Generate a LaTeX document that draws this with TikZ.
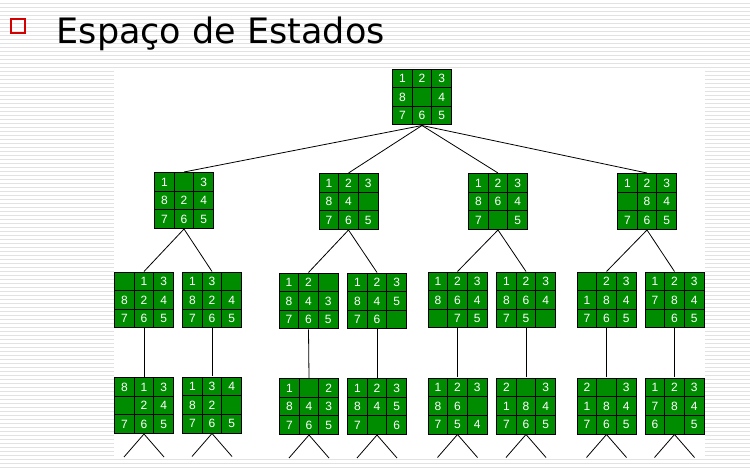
\documentclass[tikz,border=0pt]{standalone}
\usepackage{fontspec}
\setmainfont{Liberation Sans}
\newfontfamily\titlefont{DejaVu Sans}
\usetikzlibrary{matrix}
\definecolor{tilegreen}{RGB}{0,140,0}
\definecolor{stripegray}{RGB}{226,226,226}
\definecolor{bulletred}{RGB}{210,0,0}
\tikzset{
  puzzle/.style={matrix of nodes, ampersand replacement=\&, nodes in empty cells,
    column sep=-0.8pt, row sep=-0.8pt, inner sep=0pt,
    nodes={draw=black, line width=0.8pt, fill=tilegreen, minimum width=19.6pt,
      minimum height=18.6pt, inner sep=0pt, text=white,
      font=\fontsize{12}{12}\selectfont, anchor=center}},
  edge/.style={draw=black, line width=0.8pt},
}
\newcommand{\puz}[5]{\matrix[puzzle] (#1) at (#2) {#3\\#4\\#5\\};}
\begin{document}
\begin{tikzpicture}[x=1pt,y=-1pt]
\useasboundingbox (0,0) rectangle (750,470);
% striped slide background
\foreach \yy in {3.5,7.5,...,469.5}
  \draw[stripegray, line width=1.5pt] (0,\yy) -- (750,\yy);
\fill[white] (114,68) rectangle (705,459);
% title
\node[draw=bulletred, line width=1.6pt, minimum size=14pt, inner sep=0pt] (bullet) at (18.2,25.8) {};
\node[anchor=base west, inner sep=0pt, font=\titlefont\fontsize{35}{35}\selectfont] (title) at (56.5,44) {Espaço de Estados};
% root
\puz{root}{422,97}{1 \& 2 \& 3}{8 \& \& 4}{7 \& 6 \& 5}
% level 1
\puz{a}{184,200.5}{1 \& \& 3}{8 \& 2 \& 4}{7 \& 6 \& 5}
\puz{b}{348.5,201.5}{1 \& 2 \& 3}{8 \& 4 \& }{7 \& 6 \& 5}
\puz{c}{498,201.5}{1 \& 2 \& 3}{8 \& 6 \& 4}{7 \& \& 5}
\puz{d}{647,201.5}{1 \& 2 \& 3}{\& 8 \& 4}{7 \& 6 \& 5}
% level 2
\puz{aa}{144,300}{\& 1 \& 3}{8 \& 2 \& 4}{7 \& 6 \& 5}
\puz{ab}{212,300}{1 \& 3 \& }{8 \& 2 \& 4}{7 \& 6 \& 5}
\puz{ba}{308.5,301}{1 \& 2 \& }{8 \& 4 \& 3}{7 \& 6 \& 5}
\puz{bb}{377,301}{1 \& 2 \& 3}{8 \& 4 \& 5}{7 \& 6 \& }
\puz{ca}{457.5,300}{1 \& 2 \& 3}{8 \& 6 \& 4}{\& 7 \& 5}
\puz{cb}{526,300}{1 \& 2 \& 3}{8 \& 6 \& 4}{7 \& 5 \& }
\puz{da}{606.5,300}{\& 2 \& 3}{1 \& 8 \& 4}{7 \& 6 \& 5}
\puz{db}{674.5,300}{1 \& 2 \& 3}{7 \& 8 \& 4}{\& 6 \& 5}
% level 3
\puz{aaa}{144,405.5}{8 \& 1 \& 3}{\& 2 \& 4}{7 \& 6 \& 5}
\puz{aba}{212,405}{1 \& 3 \& 4}{8 \& 2 \& }{7 \& 6 \& 5}
\puz{baa}{309,406.5}{1 \& \& 2}{8 \& 4 \& 3}{7 \& 6 \& 5}
\puz{bba}{377,406.5}{1 \& 2 \& 3}{8 \& 4 \& 5}{7 \& \& 6}
\puz{caa}{457.5,406}{1 \& 2 \& 3}{8 \& 6 \& }{7 \& 5 \& 4}
\puz{cba}{526,406}{2 \& \& 3}{1 \& 8 \& 4}{7 \& 6 \& 5}
\puz{daa}{606.5,406}{2 \& \& 3}{1 \& 8 \& 4}{7 \& 6 \& 5}
\puz{dba}{674.5,406}{1 \& 2 \& 3}{7 \& 8 \& 4}{6 \& \& 5}
% connectors
\foreach \c in {a,b,c,d} \draw[edge] (root.south) -- (\c.north);
\foreach \p in {a,b,c,d} {
  \draw[edge] (\p.south) -- (\p a.north);
  \draw[edge] (\p.south) -- (\p b.north);
  \draw[edge] (\p a.south) -- (\p aa.north);
  \draw[edge] (\p b.south) -- (\p ba.north);
}
\foreach \n in {aaa,aba,baa,bba,caa,cba,daa,dba} {
  \path (\n.south) ++(-20,23) coordinate (\n-l);
  \path (\n.south) ++(20,23) coordinate (\n-r);
  \draw[edge] (\n-l) -- (\n.south) -- (\n-r);
}
\end{tikzpicture}
\end{document}
